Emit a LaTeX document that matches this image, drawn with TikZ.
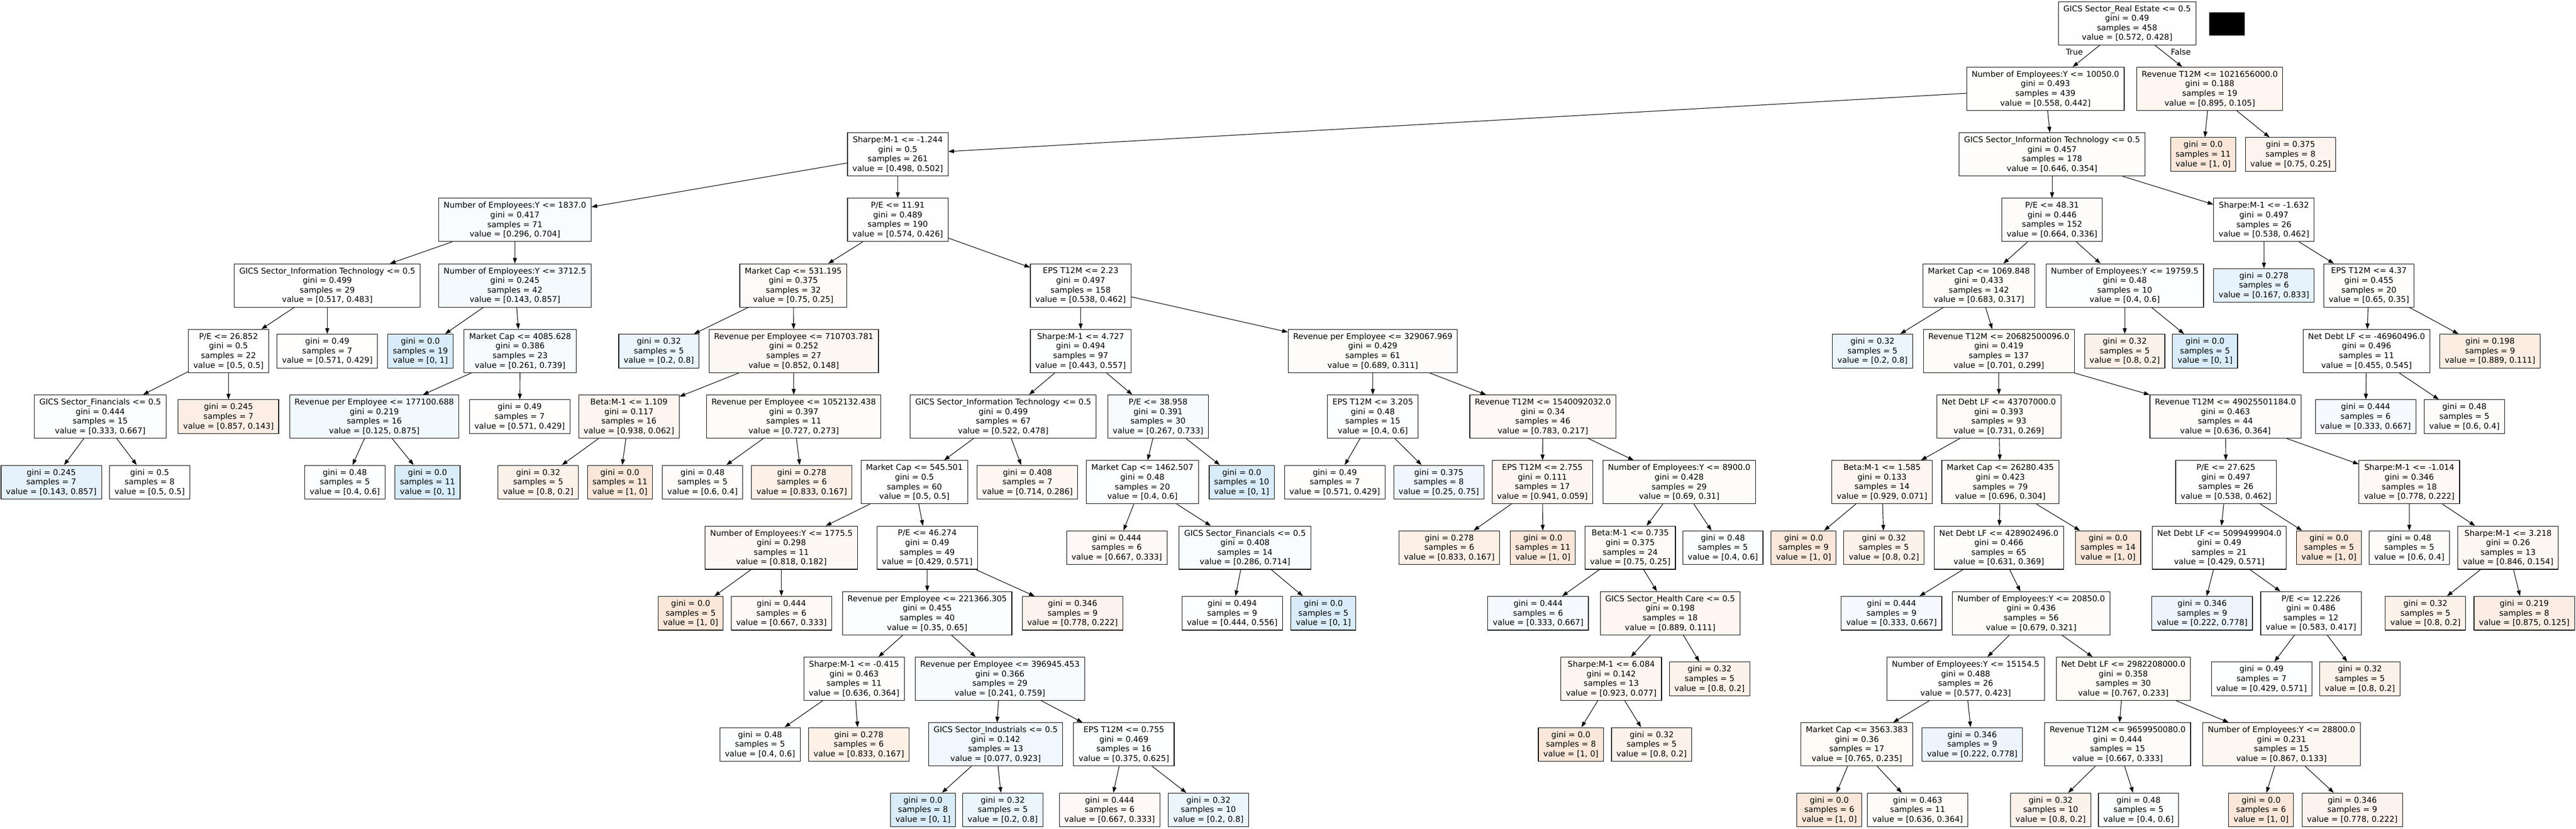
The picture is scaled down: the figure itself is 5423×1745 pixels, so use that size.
\documentclass[tikz,border=0pt]{standalone}
\usepackage{fontspec}
\setmainfont{DejaVu Sans}
\usetikzlibrary{arrows.meta}

\definecolor{orangecls}{HTML}{E58139}
\definecolor{bluecls}{HTML}{399DE5}

\tikzset{
  tmax/.store in=\tmax,
  split/.style={draw, line width=1.2pt, rectangle, align=center, inner xsep=10.5pt, inner ysep=2pt,
    minimum height=91pt, font=\fontsize{16.8}{20.2}\selectfont, tmax=9},
  leaf/.style={split, minimum height=71pt, tmax=19},
  lbl/.style={font=\fontsize{16.8}{20.2}\selectfont, inner sep=0pt},
  % fill tint from the first class share
  val/.code={%
    \pgfmathsetmacro\vz{#1}%
    \pgfmathtruncatemacro\vmaj{\vz>=0.5}%
    \ifnum\vmaj=1
      \pgfmathsetmacro\tn{\tmax*((2*\vz-1)/\vz)^2}%
      \tikzset{fill=orangecls!\tn!white}%
    \else
      \pgfmathsetmacro\tn{\tmax*((1-2*\vz)/(1-\vz))^2}%
      \tikzset{fill=bluecls!\tn!white}%
    \fi}
}

\begin{document}
\begin{tikzpicture}[x=1pt,y=-1pt,>={Triangle[length=12pt,width=8.4pt]},line width=1.2pt]
\useasboundingbox (0,0) rectangle (5423,1745);

% level 0
\node[split,val=0.572] (root) at (4478,49) {GICS Sector\_Real Estate <= 0.5\\gini = 0.49\\samples = 458\\value = [0.572, 0.428]};
\node[fill=black, minimum width=74pt, minimum height=49pt, inner sep=0pt] (mask) at (4688,50.5) {};
\node[lbl] (truelbl) at (4367,109) {True};
\node[lbl] (falselbl) at (4591,109) {False};

% level 1
\node[split,val=0.558] (emp10050) at (4306,187) {Number of Employees:Y <= 10050.0\\gini = 0.493\\samples = 439\\value = [0.558, 0.442]};
\node[split,val=0.895] (rev1021) at (4652,187) {Revenue T12M <= 1021656000.0\\gini = 0.188\\samples = 19\\value = [0.895, 0.105]};

% level 2
\node[split,val=0.498] (shp1244) at (1890,325) {Sharpe:M-1 <= -1.244\\gini = 0.5\\samples = 261\\value = [0.498, 0.502]};
\node[split,val=0.646] (it178) at (4320,325) {GICS Sector\_Information Technology <= 0.5\\gini = 0.457\\samples = 178\\value = [0.646, 0.354]};
\node[leaf,val=1] (rev1021a) at (4638,325) {gini = 0.0\\samples = 11\\value = [1, 0]};
\node[leaf,val=0.75] (rev1021b) at (4822,325) {gini = 0.375\\samples = 8\\value = [0.75, 0.25]};

% level 3
\node[split,val=0.296] (emp1837) at (1084,463) {Number of Employees:Y <= 1837.0\\gini = 0.417\\samples = 71\\value = [0.296, 0.704]};
\node[split,val=0.574] (pe1191) at (1890,463) {P/E <= 11.91\\gini = 0.489\\samples = 190\\value = [0.574, 0.426]};
\node[split,val=0.664] (pe4831) at (4320,463) {P/E <= 48.31\\gini = 0.446\\samples = 152\\value = [0.664, 0.336]};
\node[split,val=0.538] (shp1632) at (4766,463) {Sharpe:M-1 <= -1.632\\gini = 0.497\\samples = 26\\value = [0.538, 0.462]};

% level 4
\node[split,val=0.517] (it29) at (689,601) {GICS Sector\_Information Technology <= 0.5\\gini = 0.499\\samples = 29\\value = [0.517, 0.483]};
\node[split,val=0.143] (emp3712) at (1084,601) {Number of Employees:Y <= 3712.5\\gini = 0.245\\samples = 42\\value = [0.143, 0.857]};
\node[split,val=0.75] (cap531) at (1670,601) {Market Cap <= 531.195\\gini = 0.375\\samples = 32\\value = [0.75, 0.25]};
\node[split,val=0.538] (eps223) at (2275,601) {EPS T12M <= 2.23\\gini = 0.497\\samples = 158\\value = [0.538, 0.462]};
\node[split,val=0.683] (cap1069) at (4166,601) {Market Cap <= 1069.848\\gini = 0.433\\samples = 142\\value = [0.683, 0.317]};
\node[split,val=0.4] (emp19759) at (4473,601) {Number of Employees:Y <= 19759.5\\gini = 0.48\\samples = 10\\value = [0.4, 0.6]};
\node[leaf,val=0.167] (shp1632a) at (4766,601) {gini = 0.278\\samples = 6\\value = [0.167, 0.833]};
\node[split,val=0.65] (eps437) at (4987,601) {EPS T12M <= 4.37\\gini = 0.455\\samples = 20\\value = [0.65, 0.35]};

% level 5
\node[split,val=0.5] (pe26852) at (481,739) {P/E <= 26.852\\gini = 0.5\\samples = 22\\value = [0.5, 0.5]};
\node[leaf,val=0.571] (it29b) at (689,739) {gini = 0.49\\samples = 7\\value = [0.571, 0.429]};
\node[leaf,val=0] (emp3712a) at (885,739) {gini = 0.0\\samples = 19\\value = [0, 1]};
\node[split,val=0.261] (cap4085) at (1095,739) {Market Cap <= 4085.628\\gini = 0.386\\samples = 23\\value = [0.261, 0.739]};
\node[leaf,val=0.2] (cap531a) at (1387,739) {gini = 0.32\\samples = 5\\value = [0.2, 0.8]};
\node[split,val=0.852] (rpe710) at (1671,739) {Revenue per Employee <= 710703.781\\gini = 0.252\\samples = 27\\value = [0.852, 0.148]};
\node[split,val=0.443] (shp4727) at (2275,739) {Sharpe:M-1 <= 4.727\\gini = 0.494\\samples = 97\\value = [0.443, 0.557]};
\node[split,val=0.689] (rpe329) at (2890,739) {Revenue per Employee <= 329067.969\\gini = 0.429\\samples = 61\\value = [0.689, 0.311]};
\node[leaf,val=0.2] (cap1069a) at (3942,739) {gini = 0.32\\samples = 5\\value = [0.2, 0.8]};
\node[split,val=0.701] (rev20682) at (4208,739) {Revenue T12M <= 20682500096.0\\gini = 0.419\\samples = 137\\value = [0.701, 0.299]};
\node[leaf,val=0.8] (emp19759a) at (4473,739) {gini = 0.32\\samples = 5\\value = [0.8, 0.2]};
\node[leaf,val=0] (emp19759b) at (4642,739) {gini = 0.0\\samples = 5\\value = [0, 1]};
\node[split,val=0.455] (debt46960) at (4982,739) {Net Debt LF <= -46960496.0\\gini = 0.496\\samples = 11\\value = [0.455, 0.545]};
\node[leaf,val=0.889] (eps437b) at (5242,739) {gini = 0.198\\samples = 9\\value = [0.889, 0.111]};

% level 6
\node[split,val=0.333] (fin15) at (211,877) {GICS Sector\_Financials <= 0.5\\gini = 0.444\\samples = 15\\value = [0.333, 0.667]};
\node[leaf,val=0.857] (pe26852b) at (481,877) {gini = 0.245\\samples = 7\\value = [0.857, 0.143]};
\node[split,val=0.125] (rpe177) at (788,877) {Revenue per Employee <= 177100.688\\gini = 0.219\\samples = 16\\value = [0.125, 0.875]};
\node[leaf,val=0.571] (cap4085b) at (1094,877) {gini = 0.49\\samples = 7\\value = [0.571, 0.429]};
\node[split,val=0.938] (beta1109) at (1324,877) {Beta:M-1 <= 1.109\\gini = 0.117\\samples = 16\\value = [0.938, 0.062]};
\node[split,val=0.727] (rpe1052) at (1671,877) {Revenue per Employee <= 1052132.438\\gini = 0.397\\samples = 11\\value = [0.727, 0.273]};
\node[split,val=0.522] (it67) at (2112,877) {GICS Sector\_Information Technology <= 0.5\\gini = 0.499\\samples = 67\\value = [0.522, 0.478]};
\node[split,val=0.267] (pe38958) at (2438,877) {P/E <= 38.958\\gini = 0.391\\samples = 30\\value = [0.267, 0.733]};
\node[split,val=0.4] (eps3205) at (2890,877) {EPS T12M <= 3.205\\gini = 0.48\\samples = 15\\value = [0.4, 0.6]};
\node[split,val=0.783] (rev1540) at (3248,877) {Revenue T12M <= 1540092032.0\\gini = 0.34\\samples = 46\\value = [0.783, 0.217]};
\node[split,val=0.731] (debt43707) at (4208,877) {Net Debt LF <= 43707000.0\\gini = 0.393\\samples = 93\\value = [0.731, 0.269]};
\node[split,val=0.636] (rev49025) at (4685,877) {Revenue T12M <= 49025501184.0\\gini = 0.463\\samples = 44\\value = [0.636, 0.364]};
\node[leaf,val=0.333] (debt46960a) at (4980,877) {gini = 0.444\\samples = 6\\value = [0.333, 0.667]};
\node[leaf,val=0.6] (debt46960b) at (5188,877) {gini = 0.48\\samples = 5\\value = [0.6, 0.4]};

% level 7
\node[leaf,val=0.143] (fin15a) at (108,1015) {gini = 0.245\\samples = 7\\value = [0.143, 0.857]};
\node[leaf,val=0.5] (fin15b) at (315,1015) {gini = 0.5\\samples = 8\\value = [0.5, 0.5]};
\node[leaf,val=0.4] (rpe177a) at (726,1015) {gini = 0.48\\samples = 5\\value = [0.4, 0.6]};
\node[leaf,val=0] (rpe177b) at (900,1015) {gini = 0.0\\samples = 11\\value = [0, 1]};
\node[leaf,val=0.8] (beta1109a) at (1133,1015) {gini = 0.32\\samples = 5\\value = [0.8, 0.2]};
\node[leaf,val=1] (beta1109b) at (1305,1015) {gini = 0.0\\samples = 11\\value = [1, 0]};
\node[leaf,val=0.6] (rpe1052a) at (1479,1015) {gini = 0.48\\samples = 5\\value = [0.6, 0.4]};
\node[leaf,val=0.833] (rpe1052b) at (1688,1015) {gini = 0.278\\samples = 6\\value = [0.833, 0.167]};
\node[split,val=0.5] (cap545) at (1925,1015) {Market Cap <= 545.501\\gini = 0.5\\samples = 60\\value = [0.5, 0.5]};
\node[leaf,val=0.714] (it67b) at (2163,1015) {gini = 0.408\\samples = 7\\value = [0.714, 0.286]};
\node[split,val=0.4] (cap1462) at (2405,1015) {Market Cap <= 1462.507\\gini = 0.48\\samples = 20\\value = [0.4, 0.6]};
\node[leaf,val=0] (pe38958b) at (2614,1015) {gini = 0.0\\samples = 10\\value = [0, 1]};
\node[leaf,val=0.571] (eps3205a) at (2810,1015) {gini = 0.49\\samples = 7\\value = [0.571, 0.429]};
\node[leaf,val=0.25] (eps3205b) at (3029,1015) {gini = 0.375\\samples = 8\\value = [0.25, 0.75]};
\node[split,val=0.941] (eps2755) at (3247,1015) {EPS T12M <= 2.755\\gini = 0.111\\samples = 17\\value = [0.941, 0.059]};
\node[split,val=0.69] (emp8900) at (3535,1015) {Number of Employees:Y <= 8900.0\\gini = 0.428\\samples = 29\\value = [0.69, 0.31]};
\node[split,val=0.929] (beta1585) at (3962,1015) {Beta:M-1 <= 1.585\\gini = 0.133\\samples = 14\\value = [0.929, 0.071]};
\node[split,val=0.696] (cap26280) at (4211,1015) {Market Cap <= 26280.435\\gini = 0.423\\samples = 79\\value = [0.696, 0.304]};
\node[split,val=0.538] (pe27625) at (4686,1015) {P/E <= 27.625\\gini = 0.497\\samples = 26\\value = [0.538, 0.462]};
\node[split,val=0.778] (shp1014) at (5072,1015) {Sharpe:M-1 <= -1.014\\gini = 0.346\\samples = 18\\value = [0.778, 0.222]};

% level 8
\node[split,val=0.818] (emp1775) at (1645,1153) {Number of Employees:Y <= 1775.5\\gini = 0.298\\samples = 11\\value = [0.818, 0.182]};
\node[split,val=0.429] (pe46274) at (1952,1153) {P/E <= 46.274\\gini = 0.49\\samples = 49\\value = [0.429, 0.571]};
\node[leaf,val=0.667] (cap1462a) at (2351,1153) {gini = 0.444\\samples = 6\\value = [0.667, 0.333]};
\node[split,val=0.286] (fin14) at (2621,1153) {GICS Sector\_Financials <= 0.5\\gini = 0.408\\samples = 14\\value = [0.286, 0.714]};
\node[leaf,val=0.833] (eps2755a) at (3051,1153) {gini = 0.278\\samples = 6\\value = [0.833, 0.167]};
\node[leaf,val=1] (eps2755b) at (3248,1153) {gini = 0.0\\samples = 11\\value = [1, 0]};
\node[split,val=0.75] (beta0735) at (3432,1153) {Beta:M-1 <= 0.735\\gini = 0.375\\samples = 24\\value = [0.75, 0.25]};
\node[leaf,val=0.4] (emp8900b) at (3627,1153) {gini = 0.48\\samples = 5\\value = [0.4, 0.6]};
\node[leaf,val=1] (beta1585a) at (3797,1153) {gini = 0.0\\samples = 9\\value = [1, 0]};
\node[leaf,val=0.8] (beta1585b) at (3966,1153) {gini = 0.32\\samples = 5\\value = [0.8, 0.2]};
\node[split,val=0.631] (debt428) at (4208,1153) {Net Debt LF <= 428902496.0\\gini = 0.466\\samples = 65\\value = [0.631, 0.369]};
\node[leaf,val=1] (cap26280b) at (4438,1153) {gini = 0.0\\samples = 14\\value = [1, 0]};
\node[split,val=0.429] (debt5099) at (4672,1153) {Net Debt LF <= 5099499904.0\\gini = 0.49\\samples = 21\\value = [0.429, 0.571]};
\node[leaf,val=1] (pe27625b) at (4903,1153) {gini = 0.0\\samples = 5\\value = [1, 0]};
\node[leaf,val=0.6] (shp1014a) at (5072,1153) {gini = 0.48\\samples = 5\\value = [0.6, 0.4]};
\node[split,val=0.846] (shp3218) at (5280,1153) {Sharpe:M-1 <= 3.218\\gini = 0.26\\samples = 13\\value = [0.846, 0.154]};

% level 9
\node[leaf,val=1] (emp1775a) at (1454,1291) {gini = 0.0\\samples = 5\\value = [1, 0]};
\node[leaf,val=0.667] (emp1775b) at (1645,1291) {gini = 0.444\\samples = 6\\value = [0.667, 0.333]};
\node[split,val=0.35] (rpe221) at (1952,1291) {Revenue per Employee <= 221366.305\\gini = 0.455\\samples = 40\\value = [0.35, 0.65]};
\node[leaf,val=0.778] (pe46274b) at (2258,1291) {gini = 0.346\\samples = 9\\value = [0.778, 0.222]};
\node[leaf,val=0.444] (fin14a) at (2594,1291) {gini = 0.494\\samples = 9\\value = [0.444, 0.556]};
\node[leaf,val=0] (fin14b) at (2786,1291) {gini = 0.0\\samples = 5\\value = [0, 1]};
\node[leaf,val=0.333] (beta0735a) at (3238,1291) {gini = 0.444\\samples = 6\\value = [0.333, 0.667]};
\node[split,val=0.889] (hc18) at (3516,1291) {GICS Sector\_Health Care <= 0.5\\gini = 0.198\\samples = 18\\value = [0.889, 0.111]};
\node[leaf,val=0.333] (debt428a) at (3982,1291) {gini = 0.444\\samples = 9\\value = [0.333, 0.667]};
\node[split,val=0.679] (emp20850) at (4276,1291) {Number of Employees:Y <= 20850.0\\gini = 0.436\\samples = 56\\value = [0.679, 0.321]};
\node[leaf,val=0.222] (debt5099a) at (4636,1291) {gini = 0.346\\samples = 9\\value = [0.222, 0.778]};
\node[split,val=0.583] (pe12226) at (4865,1291) {P/E <= 12.226\\gini = 0.486\\samples = 12\\value = [0.583, 0.417]};
\node[leaf,val=0.8] (shp3218a) at (5106,1291) {gini = 0.32\\samples = 5\\value = [0.8, 0.2]};
\node[leaf,val=0.875] (shp3218b) at (5314,1291) {gini = 0.219\\samples = 8\\value = [0.875, 0.125]};

% level 10
\node[split,val=0.636] (shp0415) at (1798,1429) {Sharpe:M-1 <= -0.415\\gini = 0.463\\samples = 11\\value = [0.636, 0.364]};
\node[split,val=0.241] (rpe396) at (2105,1429) {Revenue per Employee <= 396945.453\\gini = 0.366\\samples = 29\\value = [0.241, 0.759]};
\node[split,val=0.923] (shp6084) at (3392,1429) {Sharpe:M-1 <= 6.084\\gini = 0.142\\samples = 13\\value = [0.923, 0.077]};
\node[leaf,val=0.8] (hc18b) at (3599,1429) {gini = 0.32\\samples = 5\\value = [0.8, 0.2]};
\node[split,val=0.577] (emp15154) at (4138,1429) {Number of Employees:Y <= 15154.5\\gini = 0.488\\samples = 26\\value = [0.577, 0.423]};
\node[split,val=0.767] (debt2982) at (4470,1429) {Net Debt LF <= 2982208000.0\\gini = 0.358\\samples = 30\\value = [0.767, 0.233]};
\node[leaf,val=0.429] (pe12226a) at (4761,1429) {gini = 0.49\\samples = 7\\value = [0.429, 0.571]};
\node[leaf,val=0.8] (pe12226b) at (4968,1429) {gini = 0.32\\samples = 5\\value = [0.8, 0.2]};

% level 11
\node[leaf,val=0.4] (shp0415a) at (1600,1567) {gini = 0.48\\samples = 5\\value = [0.4, 0.6]};
\node[leaf,val=0.833] (shp0415b) at (1808,1567) {gini = 0.278\\samples = 6\\value = [0.833, 0.167]};
\node[split,val=0.077] (ind13) at (2096,1567) {GICS Sector\_Industrials <= 0.5\\gini = 0.142\\samples = 13\\value = [0.077, 0.923]};
\node[split,val=0.375] (eps0755) at (2366,1567) {EPS T12M <= 0.755\\gini = 0.469\\samples = 16\\value = [0.375, 0.625]};
\node[leaf,val=1] (shp6084a) at (3307,1567) {gini = 0.0\\samples = 8\\value = [1, 0]};
\node[leaf,val=0.8] (shp6084b) at (3477,1567) {gini = 0.32\\samples = 5\\value = [0.8, 0.2]};
\node[split,val=0.765] (cap3563) at (3909,1567) {Market Cap <= 3563.383\\gini = 0.36\\samples = 17\\value = [0.765, 0.235]};
\node[leaf,val=0.222] (emp15154b) at (4152,1567) {gini = 0.346\\samples = 9\\value = [0.222, 0.778]};
\node[split,val=0.667] (rev9659) at (4458,1567) {Revenue T12M <= 9659950080.0\\gini = 0.444\\samples = 15\\value = [0.667, 0.333]};
\node[split,val=0.867] (emp28800) at (4803,1567) {Number of Employees:Y <= 28800.0\\gini = 0.231\\samples = 15\\value = [0.867, 0.133]};

% level 12
\node[leaf,val=0] (ind13a) at (1943,1705) {gini = 0.0\\samples = 8\\value = [0, 1]};
\node[leaf,val=0.2] (ind13b) at (2111,1705) {gini = 0.32\\samples = 5\\value = [0.2, 0.8]};
\node[leaf,val=0.667] (eps0755a) at (2336,1705) {gini = 0.444\\samples = 6\\value = [0.667, 0.333]};
\node[leaf,val=0.2] (eps0755b) at (2544,1705) {gini = 0.32\\samples = 10\\value = [0.2, 0.8]};
\node[leaf,val=1] (cap3563a) at (3851,1705) {gini = 0.0\\samples = 6\\value = [1, 0]};
\node[leaf,val=0.636] (cap3563b) at (4037,1705) {gini = 0.463\\samples = 11\\value = [0.636, 0.364]};
\node[leaf,val=0.8] (rev9659a) at (4317,1705) {gini = 0.32\\samples = 10\\value = [0.8, 0.2]};
\node[leaf,val=0.4] (rev9659b) at (4502,1705) {gini = 0.48\\samples = 5\\value = [0.4, 0.6]};
\node[leaf,val=1] (emp28800a) at (4760,1705) {gini = 0.0\\samples = 6\\value = [1, 0]};
\node[leaf,val=0.778] (emp28800b) at (4952,1705) {gini = 0.346\\samples = 9\\value = [0.778, 0.222]};

% edges
\path[->] (root) edge (emp10050) edge (rev1021);
\path[->] (emp10050) edge (shp1244) edge (it178);
\path[->] (rev1021) edge (rev1021a) edge (rev1021b);
\path[->] (shp1244) edge (emp1837) edge (pe1191);
\path[->] (it178) edge (pe4831) edge (shp1632);
\path[->] (emp1837) edge (it29) edge (emp3712);
\path[->] (pe1191) edge (cap531) edge (eps223);
\path[->] (pe4831) edge (cap1069) edge (emp19759);
\path[->] (shp1632) edge (shp1632a) edge (eps437);
\path[->] (it29) edge (pe26852) edge (it29b);
\path[->] (emp3712) edge (emp3712a) edge (cap4085);
\path[->] (cap531) edge (cap531a) edge (rpe710);
\path[->] (eps223) edge (shp4727) edge (rpe329);
\path[->] (cap1069) edge (cap1069a) edge (rev20682);
\path[->] (emp19759) edge (emp19759a) edge (emp19759b);
\path[->] (eps437) edge (debt46960) edge (eps437b);
\path[->] (pe26852) edge (fin15) edge (pe26852b);
\path[->] (cap4085) edge (rpe177) edge (cap4085b);
\path[->] (rpe710) edge (beta1109) edge (rpe1052);
\path[->] (shp4727) edge (it67) edge (pe38958);
\path[->] (rpe329) edge (eps3205) edge (rev1540);
\path[->] (rev20682) edge (debt43707) edge (rev49025);
\path[->] (debt46960) edge (debt46960a) edge (debt46960b);
\path[->] (fin15) edge (fin15a) edge (fin15b);
\path[->] (rpe177) edge (rpe177a) edge (rpe177b);
\path[->] (beta1109) edge (beta1109a) edge (beta1109b);
\path[->] (rpe1052) edge (rpe1052a) edge (rpe1052b);
\path[->] (it67) edge (cap545) edge (it67b);
\path[->] (pe38958) edge (cap1462) edge (pe38958b);
\path[->] (eps3205) edge (eps3205a) edge (eps3205b);
\path[->] (rev1540) edge (eps2755) edge (emp8900);
\path[->] (debt43707) edge (beta1585) edge (cap26280);
\path[->] (rev49025) edge (pe27625) edge (shp1014);
\path[->] (cap545) edge (emp1775) edge (pe46274);
\path[->] (cap1462) edge (cap1462a) edge (fin14);
\path[->] (eps2755) edge (eps2755a) edge (eps2755b);
\path[->] (emp8900) edge (beta0735) edge (emp8900b);
\path[->] (beta1585) edge (beta1585a) edge (beta1585b);
\path[->] (cap26280) edge (debt428) edge (cap26280b);
\path[->] (pe27625) edge (debt5099) edge (pe27625b);
\path[->] (shp1014) edge (shp1014a) edge (shp3218);
\path[->] (emp1775) edge (emp1775a) edge (emp1775b);
\path[->] (pe46274) edge (rpe221) edge (pe46274b);
\path[->] (fin14) edge (fin14a) edge (fin14b);
\path[->] (beta0735) edge (beta0735a) edge (hc18);
\path[->] (debt428) edge (debt428a) edge (emp20850);
\path[->] (debt5099) edge (debt5099a) edge (pe12226);
\path[->] (shp3218) edge (shp3218a) edge (shp3218b);
\path[->] (rpe221) edge (shp0415) edge (rpe396);
\path[->] (hc18) edge (shp6084) edge (hc18b);
\path[->] (emp20850) edge (emp15154) edge (debt2982);
\path[->] (pe12226) edge (pe12226a) edge (pe12226b);
\path[->] (shp0415) edge (shp0415a) edge (shp0415b);
\path[->] (rpe396) edge (ind13) edge (eps0755);
\path[->] (shp6084) edge (shp6084a) edge (shp6084b);
\path[->] (emp15154) edge (cap3563) edge (emp15154b);
\path[->] (debt2982) edge (rev9659) edge (emp28800);
\path[->] (ind13) edge (ind13a) edge (ind13b);
\path[->] (eps0755) edge (eps0755a) edge (eps0755b);
\path[->] (cap3563) edge (cap3563a) edge (cap3563b);
\path[->] (rev9659) edge (rev9659a) edge (rev9659b);
\path[->] (emp28800) edge (emp28800a) edge (emp28800b);
\end{tikzpicture}
\end{document}
